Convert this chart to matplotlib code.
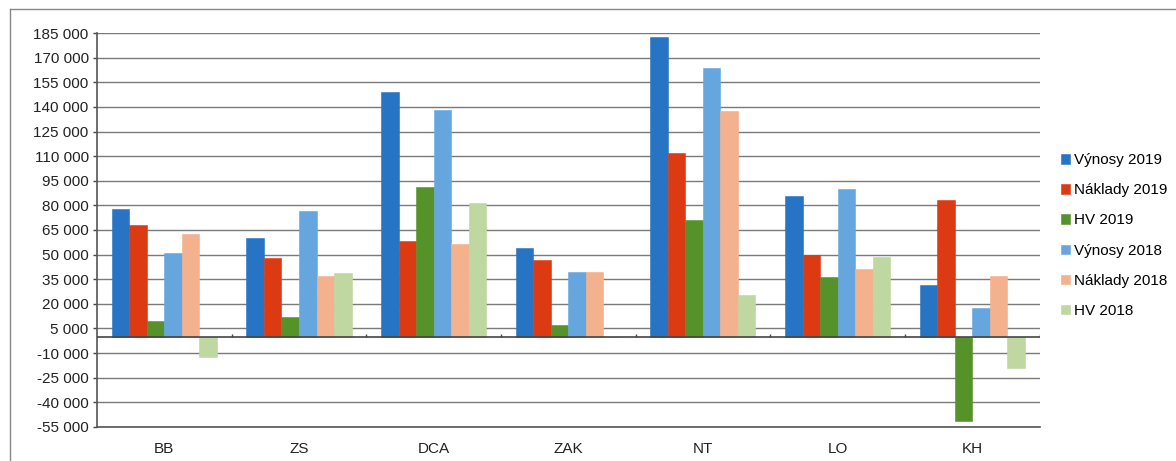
import numpy as np
import matplotlib
matplotlib.use("Agg")
import matplotlib.pyplot as plt
from matplotlib.ticker import FuncFormatter, FixedLocator

plt.rcParams["font.family"] = ["Liberation Sans", "DejaVu Sans"]

# ── Data ──────────────────────────────────────────────────────
categories = ["BB", "ZS", "DCA", "ZAK", "NT", "LO", "KH"]
vynosy_2019 = [77500, 59900, 149200, 54000, 182800, 85800, 31400]
naklady_2019 = [68000, 47700, 58200, 46600, 111700, 49700, 83200]
hv_2019 = [9600, 12100, 91000, 7400, 71000, 36500, -51500]
vynosy_2018 = [50900, 76300, 138100, 39700, 163500, 89900, 17200]
naklady_2018 = [62500, 36900, 56400, 39700, 137700, 41000, 36900]
hv_2018 = [-12300, 39100, 81600, 0, 25500, 48700, -18800]

series = [
    ("Výnosy 2019", vynosy_2019, "#2874c4"),
    ("Náklady 2019", naklady_2019, "#dc3a12"),
    ("HV 2019", hv_2019, "#55922a"),
    ("Výnosy 2018", vynosy_2018, "#66a6de"),
    ("Náklady 2018", naklady_2018, "#f3b18d"),
    ("HV 2018", hv_2018, "#bfd7a0"),
]

y_ticks = list(range(-55000, 185001, 15000))

fig = plt.figure(figsize=(11.76, 4.61), dpi=100)
ax = fig.add_axes([0.0825, 0.0738, 0.8015, 0.8546])

x = np.arange(len(categories))
width = 0.13
for i, (name, vals, color) in enumerate(series):
    offs = (i - 2.5) * width
    ax.bar(x + offs, vals, width, color=color, label=name, zorder=3,
           edgecolor=color, linewidth=0.4)

# ── Axes styling ───────────────────────────────────────────────
ax.set_xlim(-0.5, len(categories) - 0.5)
ax.set_ylim(-55000, 185000)
ax.yaxis.set_major_locator(FixedLocator(y_ticks))
ax.yaxis.set_major_formatter(
    FuncFormatter(lambda v, _: f"{int(v):,}".replace(",", " ")))
ax.grid(axis="y", color="#7a7a7a", linewidth=1.0, zorder=0)
ax.set_axisbelow(True)

ax.set_xticks(x)
ax.set_xticklabels(categories)
ax.tick_params(axis="x", length=0, pad=11, labelsize=11, colors="#222222")
ax.tick_params(axis="y", length=3, width=1, labelsize=11,
               colors="#444444", labelcolor="#222222", pad=3)

for side in ("top", "right"):
    ax.spines[side].set_visible(False)
ax.spines["left"].set_color("#555555")
ax.spines["bottom"].set_color("#555555")
ax.spines["left"].set_linewidth(1.2)
ax.spines["bottom"].set_linewidth(1.2)

# zero line with category separator ticks
ax.axhline(0, color="#444444", linewidth=1.2, zorder=4)
bounds = np.arange(len(categories) + 1) - 0.5
ax.vlines(bounds[1:], 0, 1800, color="#444444", linewidth=1, zorder=4)

ax.legend(loc="center left", bbox_to_anchor=(1.0165, 0.486), frameon=False,
          fontsize=11, handlelength=0.55, handleheight=0.55,
          handletextpad=0.3, labelspacing=1.05, borderaxespad=0)

# outer chart frame (top and left edges visible in the scan)
fig.add_artist(plt.Line2D([10 / 1176, 1.0], [1 - 9 / 461, 1 - 9 / 461],
                          transform=fig.transFigure, color="#888888", lw=1))
fig.add_artist(plt.Line2D([10 / 1176, 10 / 1176], [0, 1 - 9 / 461],
                          transform=fig.transFigure, color="#888888", lw=1))

fig.savefig("out.png", dpi=100)
plt.close(fig)
